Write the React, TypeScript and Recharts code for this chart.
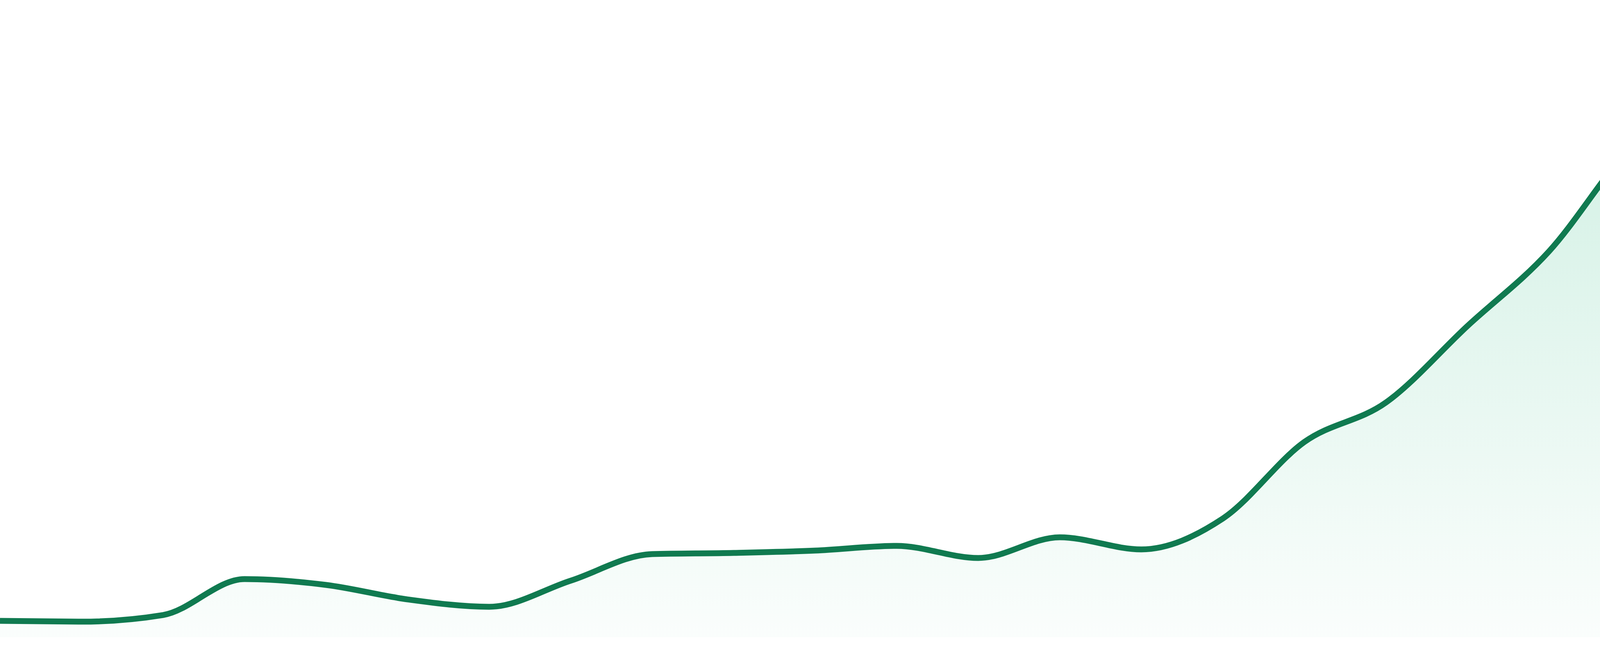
import { AreaChart, Area, XAxis, YAxis } from "recharts"

// one point per period, nothing on the axes is shown in the reference
const periods = [
  "W1", "W2", "W3", "W4", "W5", "W6", "W7", "W8", "W9", "W10", "W11", "W12",
  "W13", "W14", "W15", "W16", "W17", "W18", "W19", "W20", "W21", "W22", "W23", "W24",
]

const values = [
  2.57, 2.45, 3.49, 9.13, 8.21, 5.94, 4.78, 8.88, 13.05, 13.24, 13.6, 14.34,
  12.44, 15.69, 13.79, 18.63, 30.64, 36.83, 48.84, 60.54, 76.9, 87.68, 70.53, 55.76,
]

const chartData = periods.map((period, i) => ({ period, value: values[i] }))

export default function App() {
  return (
    <div style={{ position: "absolute", left: 0, top: 0, width: 4800, height: 1632 }}>
      <AreaChart
        width={4800}
        height={1632}
        data={chartData}
        margin={{ top: 0, right: 0, left: 0, bottom: 0 }}
      >
        <defs>
          <linearGradient id="greenFill" x1="0" y1="0" x2="0" y2="1">
            <stop offset="0%" stopColor="#3bbf8a" stopOpacity={0.4} />
            <stop offset="100%" stopColor="#3bbf8a" stopOpacity={0.04} />
          </linearGradient>
        </defs>
        <XAxis dataKey="period" hide />
        <YAxis domain={[0, 100]} hide />
        <Area
          type="monotone"
          dataKey="value"
          stroke="#107a50"
          strokeWidth={15}
          fill="url(#greenFill)"
          dot={false}
          activeDot={false}
          isAnimationActive={false}
        />
      </AreaChart>
    </div>
  )
}
